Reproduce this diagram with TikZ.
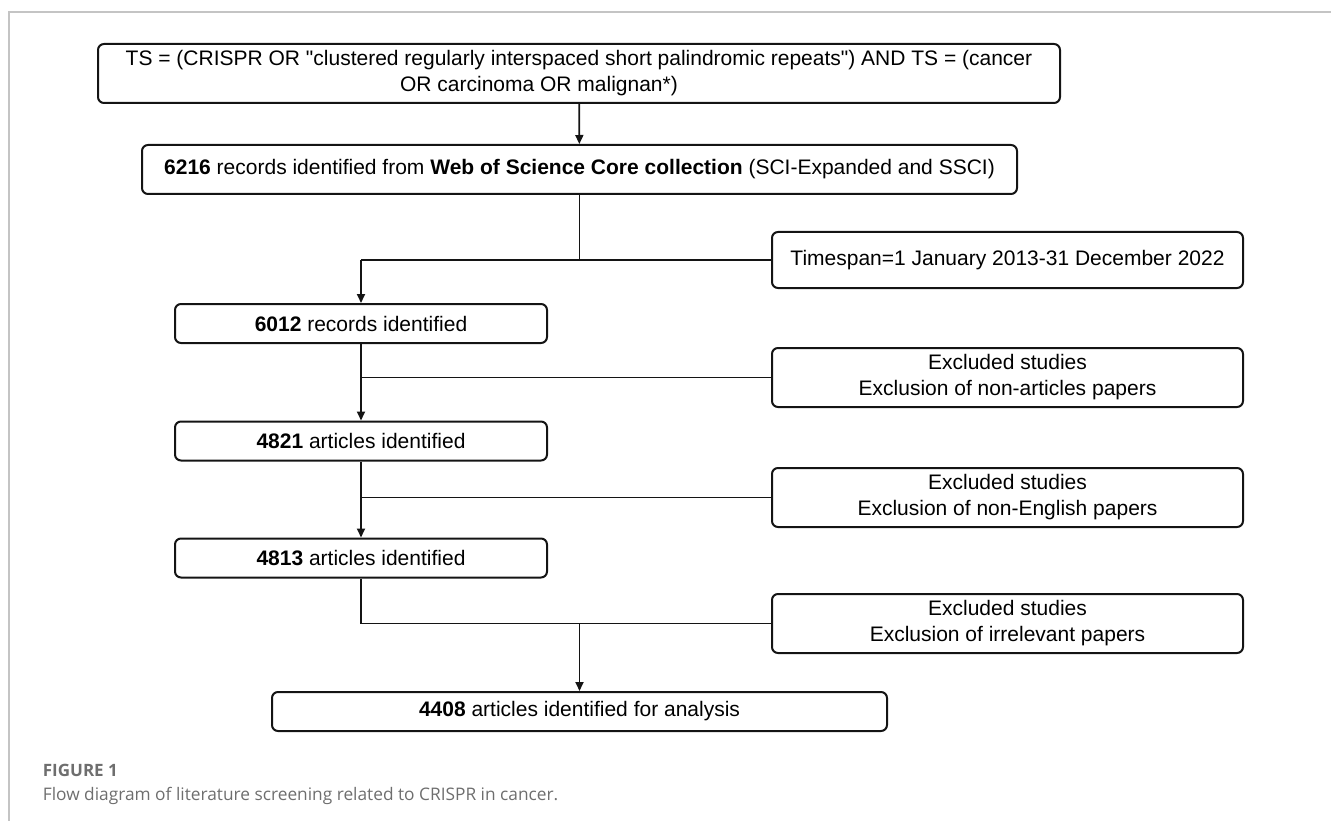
\documentclass[tikz,border=0pt]{standalone}
\usepackage{fontspec}
\setmainfont{Liberation Sans}
\newfontfamily\capfont{Open Sans}
\usepackage{xcolor}
\usetikzlibrary{positioning,arrows.meta}

\definecolor{framegray}{HTML}{C4C4C4}
\definecolor{capgray}{HTML}{6E6E6E}
\definecolor{inkdark}{HTML}{141414}

\begin{document}
\begin{tikzpicture}[
    x=1pt, y=-1pt,
    ->,
    >={Stealth[inset=0pt,length=9pt,width=8pt]},
    line width=1.8pt,
    draw=inkdark
]

\tikzstyle{record}=[
    rectangle,
    rounded corners=6pt,
    draw=inkdark,
    line width=2pt,
    minimum width=372pt,
    minimum height=39pt,
    inner sep=2pt,
    align=center,
    font=\fontsize{21}{26}\selectfont
]
\tikzstyle{filter}=[
    record,
    minimum width=471pt,
    minimum height=59pt
]

\useasboundingbox (0,0) rectangle (1331,821);

% page frame
\draw[-, framegray, line width=1.2pt] (9,821) -- (9,12) -- (1331,12);

\node[record, minimum width=962pt, minimum height=59pt] (query) at (579,73.5)
    {TS = (CRISPR OR \textquotedbl clustered regularly interspaced short palindromic repeats\textquotedbl) AND TS = (cancer\\
     OR carcinoma OR malignan*)\hspace*{80pt}};
\node[record, minimum width=875pt, minimum height=49pt] (wos) at (579.5,169.5)
    {\textbf{6216} records identified from \textbf{Web of Science Core collection} (SCI-Expanded and SSCI)};

\node[filter, minimum height=56pt] (span) at (1007.5,260) {Timespan=1 January 2013-31 December 2022};
\node[record] (rec6012) at (361,323.5) {\textbf{6012} records identified};

\node[filter] (exA) at (1007.5,377.5) {Excluded studies\\Exclusion of non-articles papers};
\node[record] (art4821) at (361,441) {\textbf{4821} articles identified};

\node[filter] (exB) at (1007.5,497.5) {Excluded studies\\Exclusion of non-English papers};
\node[record] (art4813) at (361,558) {\textbf{4813} articles identified};

\node[filter] (exC) at (1007.5,623.5) {Excluded studies\\Exclusion of irrelevant papers};
\node[record, minimum width=615pt] (final) at (579.5,711.5) {\textbf{4408} articles identified for analysis};

% connectors
\coordinate (splitA) at (wos.south |- span.west);
\coordinate (dropA) at (rec6012.north |- span.west);
\draw (query) -- (wos);
\draw[-] (wos) -- (splitA);
\draw[-] (dropA) -- (span);
\draw (dropA) -- (rec6012);

\coordinate (splitB) at (rec6012.south |- exA.west);
\draw (rec6012) -- (art4821);
\draw[-] (splitB) -- (exA);

\coordinate (splitC) at (art4821.south |- exB.west);
\draw (art4821) -- (art4813);
\draw[-] (splitC) -- (exB);

\coordinate (splitD) at (art4813.south |- exC.west);
\coordinate (dropD) at (final.north |- exC.west);
\draw[-] (art4813) -- (splitD) -- (exC);
\draw (dropD) -- (final);

% caption
\node[anchor=west, inner sep=0pt, text=capgray, font=\capfont\bfseries\fontsize{17}{20}\selectfont] (figlabel) at (42,770) {FIGURE 1};
\node[anchor=west, inner sep=0pt, text=capgray, font=\capfont\fontsize{17.3}{20}\selectfont] (figtext) at (42,796)
    {Flow diagram of literature screening related to CRISPR in cancer.};

\end{tikzpicture}
\end{document}
